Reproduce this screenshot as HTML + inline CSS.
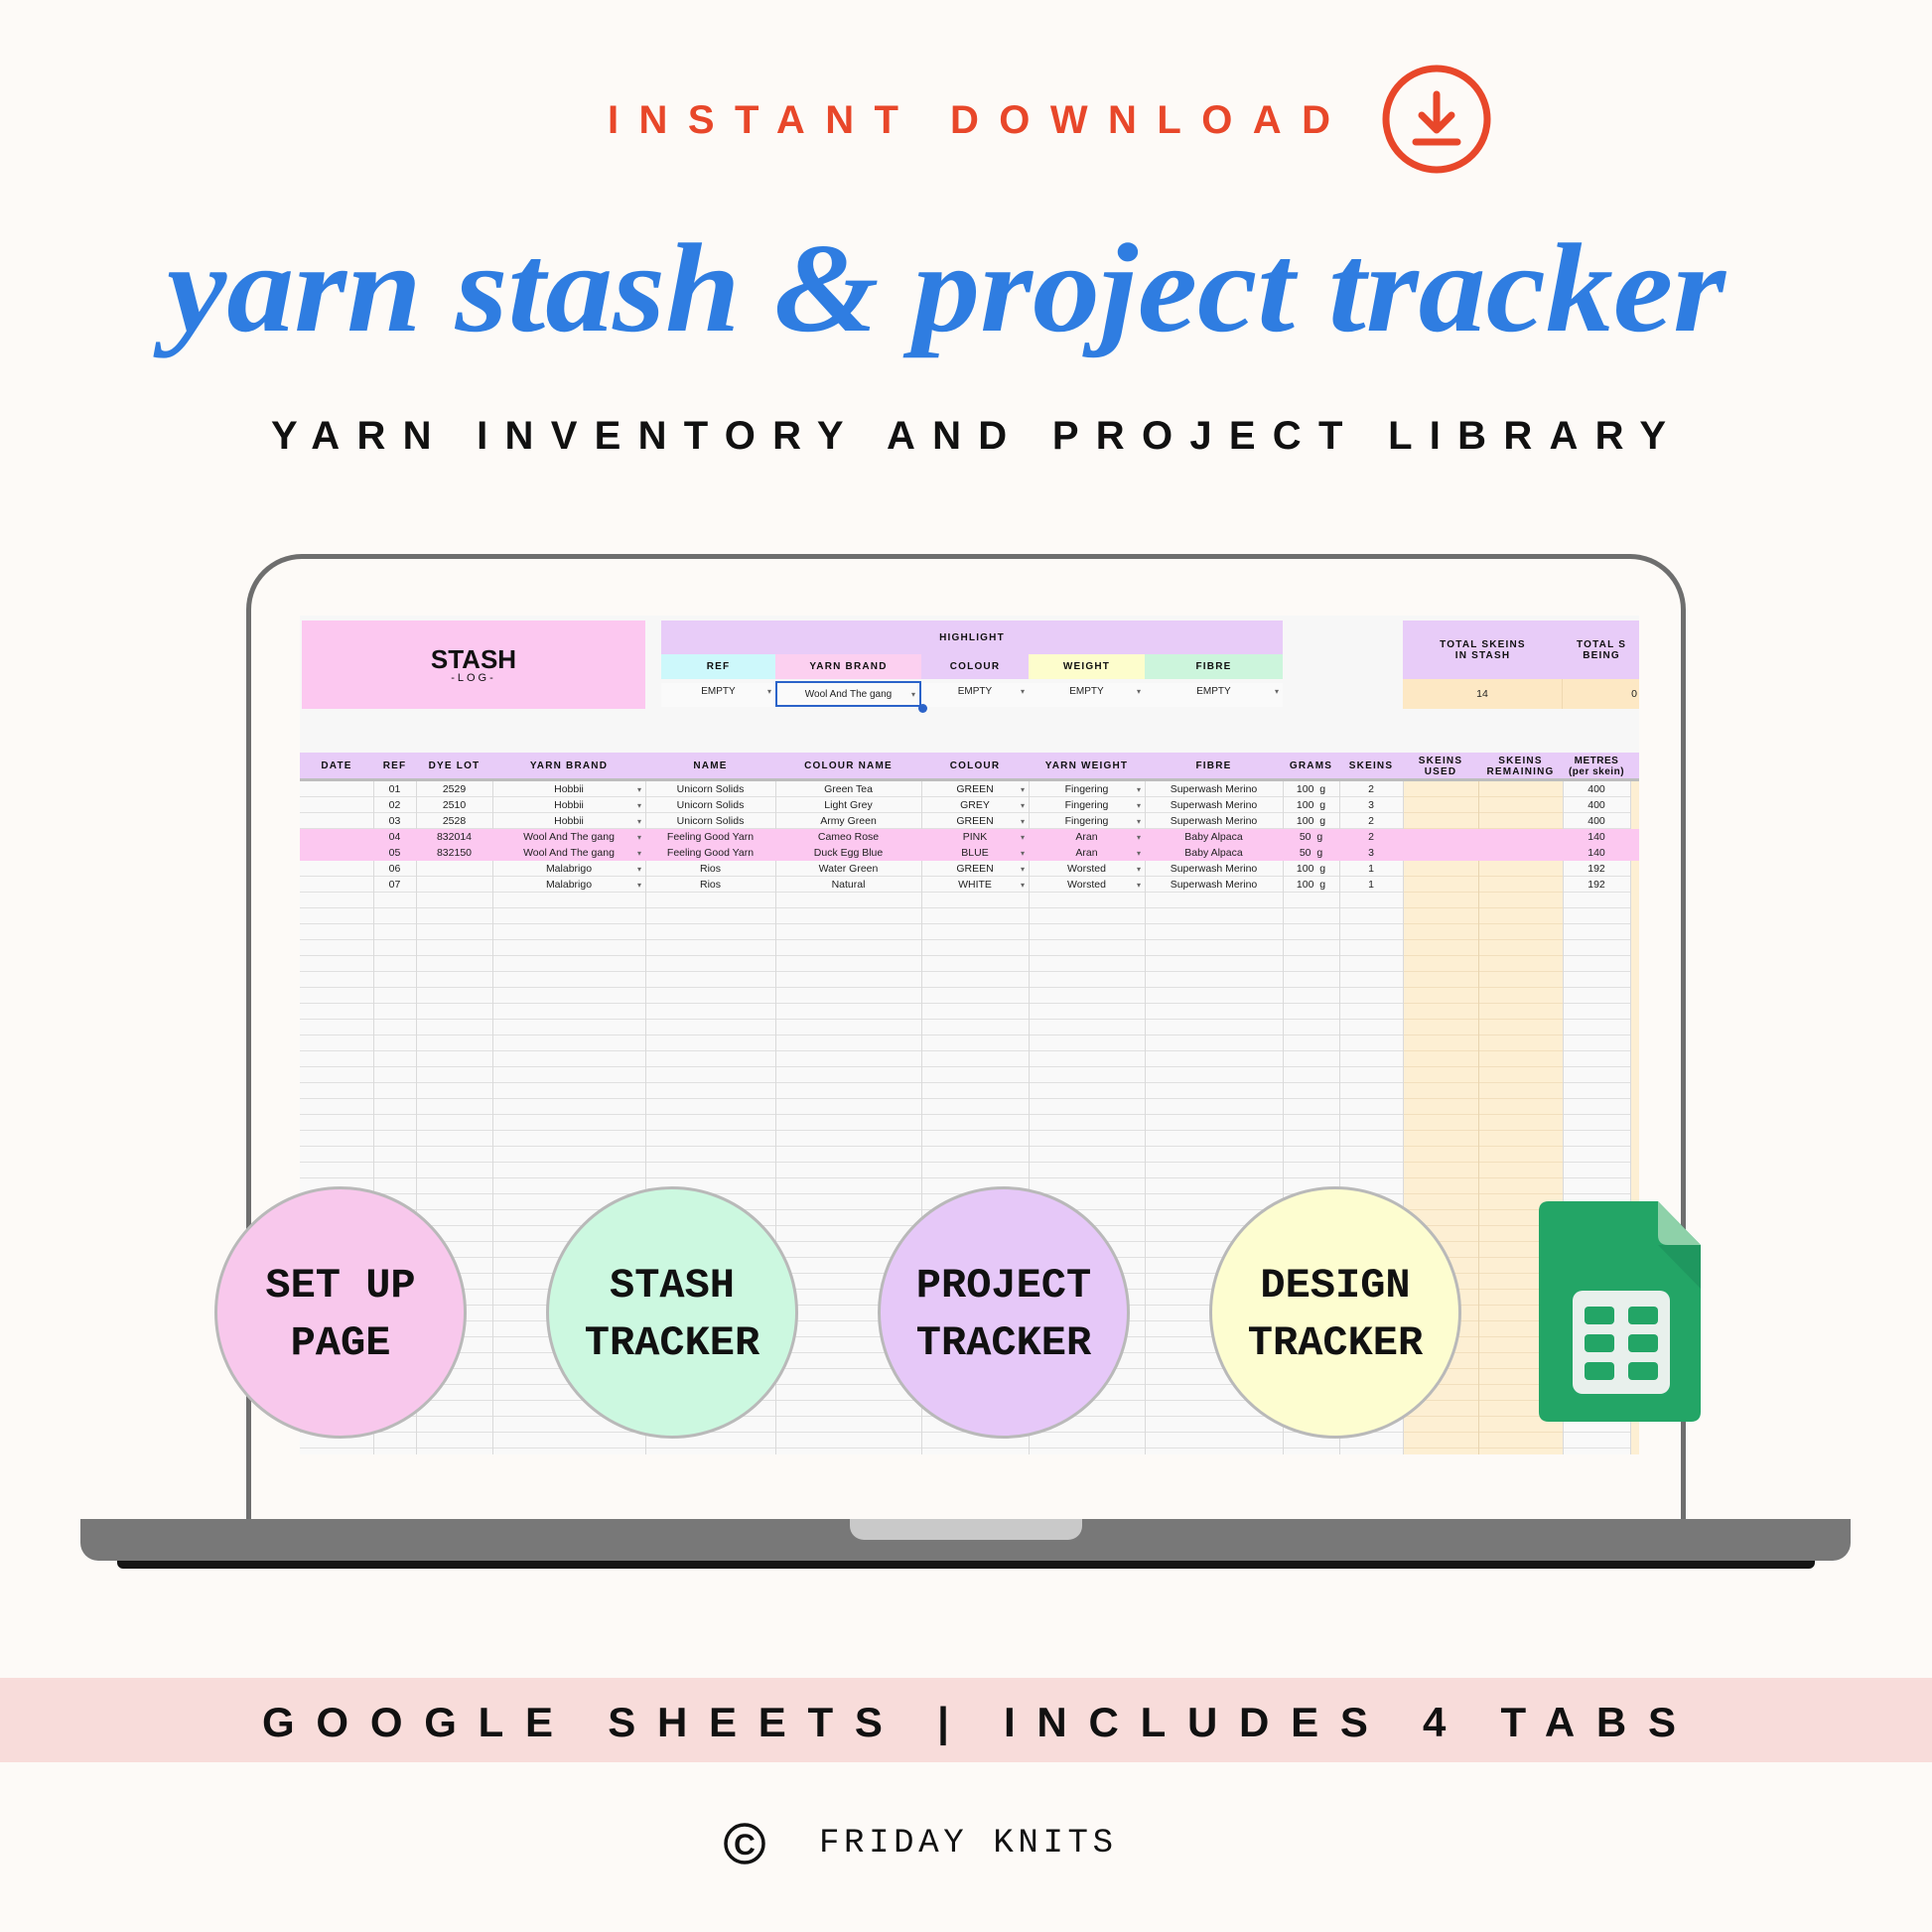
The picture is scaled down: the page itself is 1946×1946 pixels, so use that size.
<!DOCTYPE html>
<html><head><meta charset="utf-8"><style>
*{margin:0;padding:0;box-sizing:border-box}
body{width:1946px;height:1946px;background:#fdfaf7;position:relative;overflow:hidden;font-family:"Liberation Sans",sans-serif}
.abs{position:absolute}
.sheet{position:absolute;left:302px;top:620px;width:1349px;height:845px;overflow:hidden;background:#f7f7f7}
.cell{position:absolute;display:flex;align-items:center;justify-content:center;font-size:10px;font-weight:bold;letter-spacing:1.2px;color:#111;text-align:center;line-height:11px}
.row{position:absolute;left:0;height:16px;display:flex;font-size:10.5px;color:#222}
.row div{display:flex;align-items:center;justify-content:center;height:16px;position:relative}
.dd:after{content:"▾";position:absolute;right:4px;font-size:8px;color:#666}
.circ{position:absolute;width:254px;height:254px;border-radius:50%;border:3px solid #b9b9b9;display:flex;align-items:center;justify-content:center;text-align:center;font-family:"Liberation Mono",monospace;font-weight:bold;font-size:42px;line-height:58px;color:#111;padding-top:4px}
</style></head><body>

<svg class="abs" style="left:0;top:0" width="1946" height="600">
<text x="612" y="134" textLength="728" lengthAdjust="spacing" font-family="Liberation Sans, sans-serif" font-weight="bold" font-size="40" fill="#e8472a">INSTANT DOWNLOAD</text>
<circle cx="1447" cy="120" r="51" fill="none" stroke="#e8472a" stroke-width="7"/>
<path d="M1447 95 V130 M1432 116 L1447 131 L1462 116 M1426 143 H1468" stroke="#e8472a" stroke-width="7" fill="none" stroke-linecap="round" stroke-linejoin="round"/>
<text x="168" y="333" textLength="1570" lengthAdjust="spacingAndGlyphs" font-family="Liberation Serif, serif" font-style="italic" font-weight="bold" font-size="128" fill="#2f7de1">yarn stash &amp; project tracker</text>
<text x="273" y="452" textLength="1405" lengthAdjust="spacing" font-family="Liberation Sans, sans-serif" font-weight="bold" font-size="40" fill="#111">YARN INVENTORY AND PROJECT LIBRARY</text>
</svg>

<div class="abs" style="left:248px;top:558px;width:1450px;height:990px;border:5px solid #6e6e6e;border-bottom:none;border-radius:56px 56px 0 0;background:#fdfaf7"></div>

<div class="sheet">
  <div class="cell" style="left:2px;top:5px;width:346px;height:89px;background:#fcc8f0;flex-direction:column">
    <div style="font-size:26px;letter-spacing:0;line-height:28px">STASH</div>
    <div style="font-size:11px;font-weight:normal;letter-spacing:3px">-LOG-</div>
  </div>
  <div class="cell" style="left:364px;top:5px;width:626px;height:34px;background:#e8ccf8">HIGHLIGHT</div>
  <div class="cell" style="left:364px;top:39px;width:115px;height:25px;background:#cdf8fb">REF</div>
  <div class="cell" style="left:479px;top:39px;width:147px;height:25px;background:#fcd0f0">YARN BRAND</div>
  <div class="cell" style="left:626px;top:39px;width:108px;height:25px;background:#e8ccf8">COLOUR</div>
  <div class="cell" style="left:734px;top:39px;width:117px;height:25px;background:#fdfdcc">WEIGHT</div>
  <div class="cell" style="left:851px;top:39px;width:139px;height:25px;background:#ccf5dc">FIBRE</div>
  <div class="row" style="top:68px;height:24px;left:364px;background:#fafafa;font-size:10px">
    <div class="dd" style="width:115px">EMPTY</div>
    <div class="dd" style="width:147px;border:2px solid #2b63c9;height:26px;margin-top:-2px">Wool And The gang</div>
    <div class="dd" style="width:108px">EMPTY</div>
    <div class="dd" style="width:117px">EMPTY</div>
    <div class="dd" style="width:139px">EMPTY</div>
  </div>
  <div class="abs" style="left:623px;top:89px;width:9px;height:9px;border-radius:50%;background:#2b63c9"></div>
  <div class="cell" style="left:1111px;top:5px;width:161px;height:59px;background:#e8ccf8">TOTAL SKEINS<br>IN STASH</div>
  <div class="cell" style="left:1272px;top:5px;width:90px;height:59px;background:#e8ccf8;justify-content:flex-start;padding-left:14px">TOTAL S<br>BEING</div>
  <div class="row" style="left:1111px;top:64px;height:30px;background:#fde8c4;width:240px">
    <div style="width:161px;height:30px;border-right:1px solid #f0d8b0">14</div><div style="width:79px;height:30px;justify-content:flex-end;padding-right:4px">0</div>
  </div>

  <div class="abs" style="left:0;top:167px;width:1349px;height:678px;background-color:#f9f9f9;background-image:repeating-linear-gradient(to bottom,transparent 0,transparent 15px,#e0e0e0 15px,#e0e0e0 16px)"></div>
  <div class="abs" style="left:1111px;top:167px;width:161px;height:678px;background-color:#fdefd3;background-image:repeating-linear-gradient(to bottom,transparent 0,transparent 15px,#f2dfbd 15px,#f2dfbd 16px)"></div>
  <div class="abs" style="left:1340px;top:167px;width:9px;height:678px;background:#fdefd3"></div>
  <div class="abs" style="left:74px;top:138px;width:1px;height:707px;background:#dadada"></div>
  <div class="abs" style="left:117px;top:138px;width:1px;height:707px;background:#dadada"></div>
  <div class="abs" style="left:194px;top:138px;width:1px;height:707px;background:#dadada"></div>
  <div class="abs" style="left:348px;top:138px;width:1px;height:707px;background:#dadada"></div>
  <div class="abs" style="left:479px;top:138px;width:1px;height:707px;background:#dadada"></div>
  <div class="abs" style="left:626px;top:138px;width:1px;height:707px;background:#dadada"></div>
  <div class="abs" style="left:734px;top:138px;width:1px;height:707px;background:#dadada"></div>
  <div class="abs" style="left:851px;top:138px;width:1px;height:707px;background:#dadada"></div>
  <div class="abs" style="left:990px;top:138px;width:1px;height:707px;background:#dadada"></div>
  <div class="abs" style="left:1047px;top:138px;width:1px;height:707px;background:#dadada"></div>
  <div class="abs" style="left:1111px;top:138px;width:1px;height:707px;background:#dadada"></div>
  <div class="abs" style="left:1187px;top:138px;width:1px;height:707px;background:#e8d4b0"></div>
  <div class="abs" style="left:1272px;top:138px;width:1px;height:707px;background:#dadada"></div>
  <div class="abs" style="left:1340px;top:138px;width:1px;height:707px;background:#dadada"></div>

  <div class="abs" style="left:0;top:138px;width:1349px;height:29px;background:#e8ccf8;border-bottom:3px solid #bdbdbd"></div>
  <div class="cell" style="left:0;top:138px;width:74px;height:27px">DATE</div>
  <div class="cell" style="left:74px;top:138px;width:43px;height:27px">REF</div>
  <div class="cell" style="left:117px;top:138px;width:77px;height:27px">DYE LOT</div>
  <div class="cell" style="left:194px;top:138px;width:154px;height:27px">YARN BRAND</div>
  <div class="cell" style="left:348px;top:138px;width:131px;height:27px">NAME</div>
  <div class="cell" style="left:479px;top:138px;width:147px;height:27px">COLOUR NAME</div>
  <div class="cell" style="left:626px;top:138px;width:108px;height:27px">COLOUR</div>
  <div class="cell" style="left:734px;top:138px;width:117px;height:27px">YARN WEIGHT</div>
  <div class="cell" style="left:851px;top:138px;width:139px;height:27px">FIBRE</div>
  <div class="cell" style="left:990px;top:138px;width:57px;height:27px">GRAMS</div>
  <div class="cell" style="left:1047px;top:138px;width:64px;height:27px">SKEINS</div>
  <div class="cell" style="left:1111px;top:138px;width:76px;height:27px">SKEINS<br>USED</div>
  <div class="cell" style="left:1187px;top:138px;width:85px;height:27px">SKEINS<br>REMAINING</div>
  <div class="cell" style="left:1272px;top:138px;width:68px;height:27px;letter-spacing:0.5px">METRES<br>(per skein)</div>

  <div class="row" style="top:167px">
    <div style="width:74px"></div><div style="width:43px">01</div><div style="width:77px">2529</div><div class="dd" style="width:154px">Hobbii</div><div style="width:131px">Unicorn Solids</div><div style="width:147px">Green Tea</div><div class="dd" style="width:108px">GREEN</div><div class="dd" style="width:117px">Fingering</div><div style="width:139px">Superwash Merino</div><div style="width:57px">100 &nbsp;g</div><div style="width:64px">2</div><div style="width:161px"></div><div style="width:68px">400</div>
  </div>
  <div class="row" style="top:183px">
    <div style="width:74px"></div><div style="width:43px">02</div><div style="width:77px">2510</div><div class="dd" style="width:154px">Hobbii</div><div style="width:131px">Unicorn Solids</div><div style="width:147px">Light Grey</div><div class="dd" style="width:108px">GREY</div><div class="dd" style="width:117px">Fingering</div><div style="width:139px">Superwash Merino</div><div style="width:57px">100 &nbsp;g</div><div style="width:64px">3</div><div style="width:161px"></div><div style="width:68px">400</div>
  </div>
  <div class="row" style="top:199px">
    <div style="width:74px"></div><div style="width:43px">03</div><div style="width:77px">2528</div><div class="dd" style="width:154px">Hobbii</div><div style="width:131px">Unicorn Solids</div><div style="width:147px">Army Green</div><div class="dd" style="width:108px">GREEN</div><div class="dd" style="width:117px">Fingering</div><div style="width:139px">Superwash Merino</div><div style="width:57px">100 &nbsp;g</div><div style="width:64px">2</div><div style="width:161px"></div><div style="width:68px">400</div>
  </div>
  <div class="row" style="top:215px;background:#fcc8f0;width:1349px">
    <div style="width:74px"></div><div style="width:43px">04</div><div style="width:77px">832014</div><div class="dd" style="width:154px">Wool And The gang</div><div style="width:131px">Feeling Good Yarn</div><div style="width:147px">Cameo Rose</div><div class="dd" style="width:108px">PINK</div><div class="dd" style="width:117px">Aran</div><div style="width:139px">Baby Alpaca</div><div style="width:57px">50 &nbsp;g</div><div style="width:64px">2</div><div style="width:161px"></div><div style="width:68px">140</div>
  </div>
  <div class="row" style="top:231px;background:#fcc8f0;width:1349px">
    <div style="width:74px"></div><div style="width:43px">05</div><div style="width:77px">832150</div><div class="dd" style="width:154px">Wool And The gang</div><div style="width:131px">Feeling Good Yarn</div><div style="width:147px">Duck Egg Blue</div><div class="dd" style="width:108px">BLUE</div><div class="dd" style="width:117px">Aran</div><div style="width:139px">Baby Alpaca</div><div style="width:57px">50 &nbsp;g</div><div style="width:64px">3</div><div style="width:161px"></div><div style="width:68px">140</div>
  </div>
  <div class="row" style="top:247px">
    <div style="width:74px"></div><div style="width:43px">06</div><div style="width:77px"></div><div class="dd" style="width:154px">Malabrigo</div><div style="width:131px">Rios</div><div style="width:147px">Water Green</div><div class="dd" style="width:108px">GREEN</div><div class="dd" style="width:117px">Worsted</div><div style="width:139px">Superwash Merino</div><div style="width:57px">100 &nbsp;g</div><div style="width:64px">1</div><div style="width:161px"></div><div style="width:68px">192</div>
  </div>
  <div class="row" style="top:263px">
    <div style="width:74px"></div><div style="width:43px">07</div><div style="width:77px"></div><div class="dd" style="width:154px">Malabrigo</div><div style="width:131px">Rios</div><div style="width:147px">Natural</div><div class="dd" style="width:108px">WHITE</div><div class="dd" style="width:117px">Worsted</div><div style="width:139px">Superwash Merino</div><div style="width:57px">100 &nbsp;g</div><div style="width:64px">1</div><div style="width:161px"></div><div style="width:68px">192</div>
  </div>
</div>

<div class="abs" style="left:81px;top:1530px;width:1783px;height:42px;background:#787878;border-radius:0 0 18px 18px"></div>
<div class="abs" style="left:856px;top:1530px;width:234px;height:21px;background:#c9c9c9;border-radius:0 0 14px 14px"></div>
<div class="abs" style="left:118px;top:1572px;width:1710px;height:8px;background:#151515;border-radius:0 0 6px 6px"></div>

<div class="circ" style="left:216px;top:1195px;background:#f8c8ec">SET UP<br>PAGE</div>
<div class="circ" style="left:550px;top:1195px;background:#ccf8e0">STASH<br>TRACKER</div>
<div class="circ" style="left:884px;top:1195px;background:#e6c8f8">PROJECT<br>TRACKER</div>
<div class="circ" style="left:1218px;top:1195px;background:#fdfdd0">DESIGN<br>TRACKER</div>

<svg class="abs" style="left:1550px;top:1210px" width="166" height="225" viewBox="0 0 166 225">
<path d="M10 0 H120 L163 44 V212 Q163 222 153 222 H10 Q0 222 0 212 V10 Q0 0 10 0Z" fill="#23a566"/>
<path d="M120 0 V34 Q120 44 130 44 H163Z" fill="#8ed1a9"/>
<path d="M120 44 H163 V88Z" fill="#1c8a57" opacity="0.5"/>
<rect x="34" y="90" width="98" height="104" rx="10" fill="#e8f0ec"/>
<rect x="46" y="106" width="30" height="18" rx="4" fill="#23a566"/><rect x="90" y="106" width="30" height="18" rx="4" fill="#23a566"/>
<rect x="46" y="134" width="30" height="18" rx="4" fill="#23a566"/><rect x="90" y="134" width="30" height="18" rx="4" fill="#23a566"/>
<rect x="46" y="162" width="30" height="18" rx="4" fill="#23a566"/><rect x="90" y="162" width="30" height="18" rx="4" fill="#23a566"/>
</svg>

<div class="abs" style="left:0;top:1690px;width:1946px;height:85px;background:#f8dcda"></div>
<svg class="abs" style="left:0;top:1680px" width="1946" height="266">
<text x="264" y="69" textLength="1424" lengthAdjust="spacing" font-family="Liberation Sans, sans-serif" font-weight="bold" font-size="42" fill="#111">GOOGLE SHEETS | INCLUDES 4 TABS</text>
<circle cx="750" cy="177" r="19" fill="none" stroke="#111" stroke-width="3.5"/>
<text x="750" y="188" text-anchor="middle" font-family="Liberation Sans, sans-serif" font-weight="bold" font-size="30" fill="#111">C</text>
<text x="825" y="185" textLength="296" lengthAdjust="spacing" font-family="Liberation Mono, monospace" font-size="34" fill="#111">FRIDAY KNITS</text>
</svg>
</body></html>
